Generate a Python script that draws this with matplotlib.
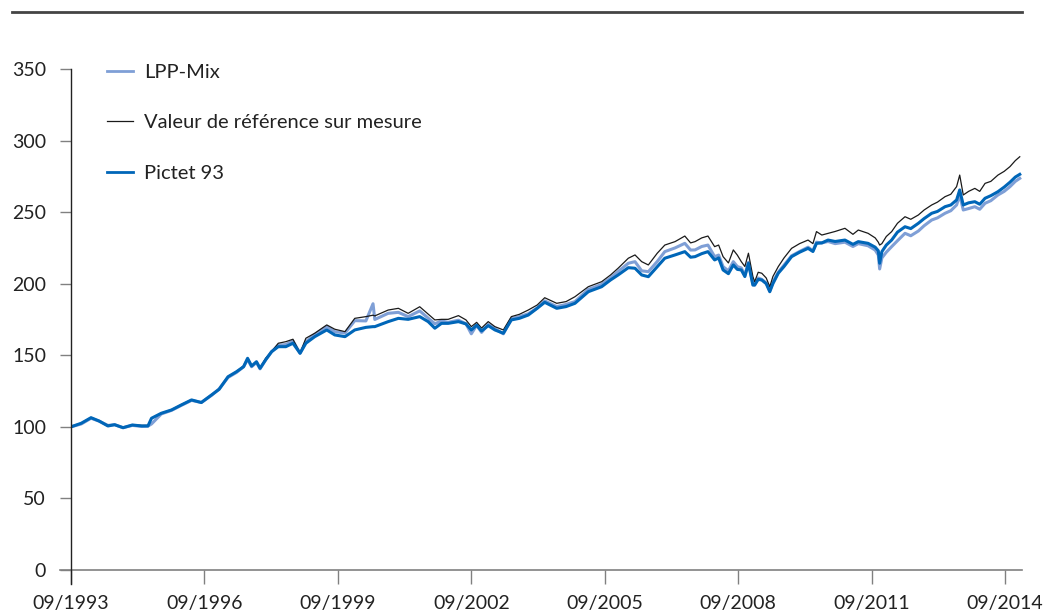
import matplotlib.pyplot as plt
from matplotlib.lines import Line2D

plt.rcParams['font.family'] = ['Lato', 'DejaVu Sans']

# decimal years (09/1993 = 1993.67)
years = [
    1993.67, 1993.9, 1994.12, 1994.3, 1994.5, 1994.65, 1994.84, 1995.05, 1995.26, 1995.4,
    1995.48, 1995.7, 1995.93, 1996.15, 1996.38, 1996.6, 1996.83, 1997.0, 1997.2, 1997.39,
    1997.55, 1997.64, 1997.73, 1997.84, 1997.92, 1998.05, 1998.18, 1998.33, 1998.5, 1998.66,
    1998.82, 1998.95, 1999.15, 1999.42, 1999.6, 1999.83, 2000.05, 2000.3, 2000.46, 2000.5,
    2000.8, 2001.03, 2001.25, 2001.51, 2001.7, 2001.85, 2002.0, 2002.15, 2002.38, 2002.55,
    2002.67, 2002.79, 2002.9, 2003.05, 2003.2, 2003.39, 2003.57, 2003.75, 2003.95, 2004.15,
    2004.32, 2004.59, 2004.8, 2005.0, 2005.3, 2005.6, 2005.8, 2005.97, 2006.2, 2006.35,
    2006.5, 2006.65, 2006.85, 2007.02, 2007.25, 2007.47, 2007.6, 2007.7, 2007.85, 2007.99,
    2008.14, 2008.23, 2008.33, 2008.45, 2008.56, 2008.65, 2008.74, 2008.82, 2008.9, 2009.0,
    2009.04, 2009.12, 2009.2, 2009.3, 2009.38, 2009.45, 2009.57, 2009.7, 2009.87, 2010.05,
    2010.24, 2010.35, 2010.43, 2010.55, 2010.69, 2010.85, 2011.07, 2011.25, 2011.37, 2011.59,
    2011.75, 2011.82, 2011.85, 2011.9, 2012.0, 2012.12, 2012.25, 2012.42, 2012.55, 2012.72,
    2012.85, 2013.02, 2013.15, 2013.32, 2013.45, 2013.58, 2013.65, 2013.73, 2013.85, 2013.99,
    2014.1, 2014.22, 2014.35, 2014.51, 2014.65, 2014.78, 2014.9, 2015.0,
]

lpp_mix = [
    100, 102, 106, 104, 101, 101.5, 99.4, 101, 100.3, 100.5,
    102, 109, 111.5, 115, 118.5, 117, 122, 126.5, 134.5, 138,
    142, 147, 142, 145, 140.5, 147, 152.5, 157, 157.5, 160,
    151.4, 159.5, 164.5, 170, 166.5, 165.5, 174.2, 174, 186, 175,
    179.3, 180, 177, 181, 176, 172, 174, 173, 174.5, 172,
    165, 171, 166, 171.5, 168.5, 165, 175.5, 177, 179, 183,
    188, 184, 185.5, 187.5, 196, 199.5, 204, 208.5, 214.3, 215.4,
    209, 208.4, 215.5, 222.4, 225, 228.2, 223.5, 223.6, 226, 227,
    218.9, 220, 211.9, 209, 215.4, 212, 211, 206, 215, 200,
    199, 204, 203, 200.5, 195, 201, 208, 213, 219.5, 222.5,
    225.5, 223, 229, 228.5, 229.5, 228, 229, 226, 228, 226.5,
    223.5, 220, 210.3, 218, 222, 225.9, 230, 235.2, 233.5, 236.8,
    240.5, 244.5, 246, 249.2, 251, 255, 262, 251.5, 252.5, 253.8,
    252, 256.2, 258, 262, 264.5, 267.8, 271.5, 273.6,
]

benchmark = [
    100, 102.5, 106.5, 104, 101, 101.5, 99.4, 101.3, 101, 101,
    106, 109.5, 111.8, 115.3, 118.8, 117, 122.3, 126.5, 135, 138.5,
    142.5, 148, 142.5, 145.5, 141, 148, 152.5, 158.4, 159.5, 161.2,
    151.4, 161.9, 165.4, 171.2, 168.2, 166.5, 175.8, 177, 178, 177.5,
    181.6, 182.8, 179.3, 183.9, 178.8, 174.7, 175.1, 175.1, 177.7, 174.7,
    170, 173, 169, 173.5, 170, 167.7, 177, 178.6, 181.6, 185.1,
    190.2, 186.3, 187.5, 190.9, 197.9, 201.4, 206.1, 210.8, 217.8, 220.1,
    215.4, 213.1, 221.3, 227, 229.4, 233.3, 228.5, 229.4, 232, 233.3,
    225.9, 227, 218.9, 214.5, 223.6, 220, 215.4, 212, 221.3, 205,
    201.4, 208, 207.3, 204, 197.9, 205, 211.9, 218, 224.7, 228,
    230.5, 228, 236.4, 234, 235.2, 236.5, 238.7, 234.5, 237.5, 235.2,
    232, 229, 227, 228, 233, 236.4, 242.2, 246.8, 245, 248,
    251.5, 255, 257, 260.8, 262.5, 267.8, 275.9, 262, 264.5, 266.6,
    264.5, 270.1, 271.5, 275.9, 278.5, 281.8, 286, 288.7,
]

pictet_93 = [
    100, 102.5, 106.4, 104.1, 100.6, 101.5, 99.4, 101.3, 100.6, 100.6,
    106, 109.5, 111.8, 115.3, 118.8, 117, 122.3, 126.2, 135, 138.5,
    142, 147.9, 142.5, 145.5, 140.9, 147, 152.5, 156, 156, 158.4,
    151.4, 158.4, 163, 167.7, 164.2, 163, 167.7, 169.5, 170, 170,
    173.5, 175.8, 175.1, 177, 173.5, 168.9, 172.3, 172.3, 173.5, 171.9,
    167.7, 171, 167, 170.7, 167.7, 165.4, 174.7, 175.8, 178.1, 182.8,
    187, 182.8, 184, 186.3, 194.4, 197.9, 202.6, 206.1, 211.2, 210.8,
    206.1, 204.9, 211.9, 217.8, 220.1, 222.4, 218.5, 218.9, 221, 222.4,
    216.6, 218, 209.6, 207, 213.1, 210, 209.6, 205, 214.3, 199,
    199.1, 203, 202.6, 200, 194.4, 200, 207.3, 212, 218.9, 222,
    224.7, 222.5, 228.2, 228.5, 230.5, 229.5, 230.5, 227.5, 229.4, 228.2,
    225.5, 223, 214.3, 222.4, 227, 230.5, 236, 239.8, 238.5, 242.2,
    245.5, 249.2, 250.5, 253.8, 255, 258.5, 265.5, 255, 256.5, 257.3,
    255.5, 259.7, 261.5, 264.3, 267.5, 270.9, 274.5, 276.4,
]

tick_years = [1993.67, 1996.67, 1999.67, 2002.67, 2005.67, 2008.67, 2011.67, 2014.67]
tick_labels = ['09/1993', '09/1996', '09/1999', '09/2002', '09/2005', '09/2008', '09/2011', '09/2014']

c_lpp = '#7f9fd6'
c_ref = '#1a1a1a'
c_pic = '#0066b8'
grey = '#808080'

fig = plt.figure(figsize=(10.46, 6.14), dpi=100)
ax = fig.add_axes([71 / 1046, 1 - 584 / 614, (1022 - 71) / 1046, (584 - 69) / 614])

ax.plot(years, lpp_mix, color=c_lpp, lw=2.2)
ax.plot(years, benchmark, color=c_ref, lw=0.9)
ax.plot(years, pictet_93, color=c_pic, lw=2.2)

ax.set_xlim(1993.67, 1993.67 + (1022 - 71) / 44.48)
ax.set_ylim(-9.8, 350)

for s in ['top', 'right', 'bottom']:
    ax.spines[s].set_visible(False)
ax.spines['left'].set_color('#222222')
ax.spines['left'].set_linewidth(1.0)

# zero line, running a bit past the axis to the left like the y ticks
ax.plot([-11 / 951, 1], [0, 0], color=grey, lw=1.2, clip_on=False,
        transform=ax.get_yaxis_transform())

ax.set_yticks(range(0, 351, 50))
ax.tick_params(axis='y', direction='out', length=8, width=1.0, color=grey,
               pad=10, labelsize=14, labelcolor='#222222')
ax.set_xticks(tick_years)
ax.set_xticklabels(tick_labels)
ax.tick_params(axis='x', direction='in', length=10, width=1.0, color=grey,
               pad=8, labelsize=14, labelcolor='#222222')

handles = [Line2D([], [], color=c_lpp, lw=2.0),
           Line2D([], [], color=c_ref, lw=0.9),
           Line2D([], [], color=c_pic, lw=2.0)]
ax.legend(handles, ['LPP-Mix', 'Valeur de référence sur mesure', 'Pictet 93'],
          loc='upper left', bbox_to_anchor=(0.019, 1.045), frameon=False,
          fontsize=14.5, handlelength=1.3, handletextpad=0.55, labelspacing=1.65,
          labelcolor='#222222')

# rule across the top of the figure
fig.add_artist(Line2D([12 / 1046, 1022 / 1046], [1 - 12 / 614, 1 - 12 / 614],
                      color='#444444', lw=2.0))

fig.savefig('out.png', dpi=100)
